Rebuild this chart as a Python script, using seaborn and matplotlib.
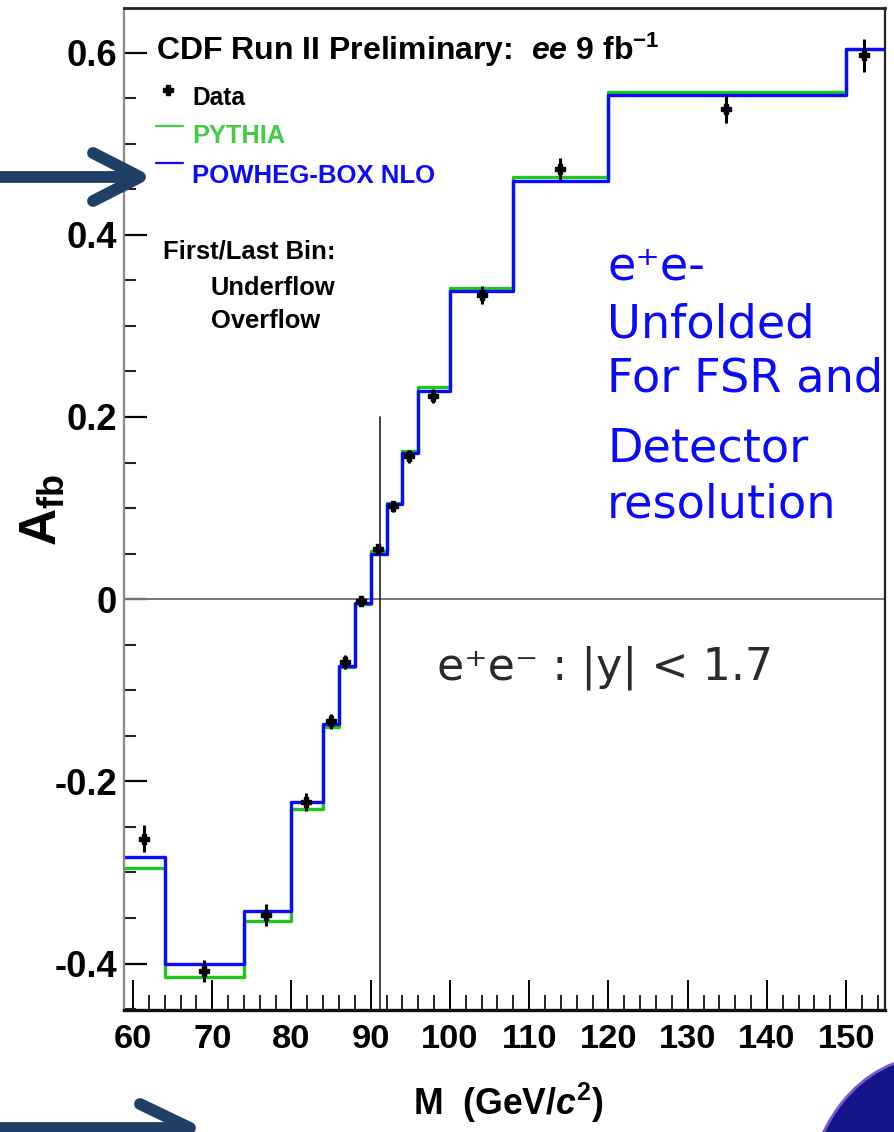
import numpy as np
import pandas as pd
import matplotlib
matplotlib.use("Agg")
import matplotlib.pyplot as plt
import seaborn as sns
from matplotlib import font_manager
from matplotlib.lines import Line2D
from matplotlib.patches import Circle
from matplotlib.ticker import MultipleLocator, FixedLocator

# ---------------- data ----------------
bin_edges = [50, 64, 74, 80, 84, 86, 88, 90, 92, 94, 96, 100, 108, 120, 150, 200]
pythia = [-0.295, -0.415, -0.353, -0.230, -0.140, -0.075, -0.005, 0.053,
          0.106, 0.163, 0.233, 0.342, 0.464, 0.557, 0.604]
powheg = [-0.283, -0.401, -0.342, -0.223, -0.137, -0.073, -0.004, 0.050,
          0.104, 0.161, 0.228, 0.338, 0.459, 0.553, 0.604]
data_mass = [61.4, 69.0, 76.8, 81.8, 85.0, 86.8, 88.8, 90.9, 92.8, 94.8,
             97.9, 104.0, 113.9, 134.8, 152.2]
data_afb = [-0.263, -0.408, -0.347, -0.223, -0.134, -0.069, -0.002, 0.055,
            0.102, 0.157, 0.223, 0.334, 0.472, 0.538, 0.597]
data_err = [0.015, 0.012, 0.012, 0.010, 0.008, 0.008, 0.006, 0.006,
            0.006, 0.007, 0.008, 0.010, 0.012, 0.015, 0.018]
z_mass = 91.19
x_ticks = [60, 70, 80, 90, 100, 110, 120, 130, 140, 150]
x_ticklabels = ["60", "70", "80", "90", "100", "110", "120", "130", "140", "150"]
y_ticks = [-0.4, -0.2, 0.0, 0.2, 0.4, 0.6]
y_ticklabels = ["-0.4", "-0.2", "0", "0.2", "0.4", "0.6"]

# ---------------- style ----------------
sns.set_theme(style="white")
names = {f.name for f in font_manager.fontManager.ttflist}
NARROW = "Liberation Sans Narrow" if "Liberation Sans Narrow" in names else "Liberation Sans"
WIDE = "Liberation Sans" if "Liberation Sans" in names else "DejaVu Sans"
plt.rcParams["font.family"] = [NARROW, "DejaVu Sans"]
plt.rcParams["axes.unicode_minus"] = False
plt.rcParams["mathtext.fontset"] = "custom"
plt.rcParams["mathtext.rm"] = NARROW + ":bold"
plt.rcParams["mathtext.it"] = NARROW + ":italic:bold"
plt.rcParams["mathtext.bf"] = WIDE + ":bold"

W, H = 894, 1132
fig = plt.figure(figsize=(W / 100, H / 100), dpi=100)
fig.patch.set_facecolor("white")
ax = fig.add_axes([124 / W, 1 - 1010 / H, (885 - 124) / W, (1010 - 8) / H])
ax.set_facecolor("white")

GREEN = "#1fc61f"
BLUE = "#0a0aff"

steps = pd.DataFrame({
    "M": bin_edges * 2,
    "Afb": (pythia + [pythia[-1]]) + (powheg + [powheg[-1]]),
    "model": ["PYTHIA"] * len(bin_edges) + ["POWHEG-BOX NLO"] * len(bin_edges),
})
sns.lineplot(data=steps, x="M", y="Afb", hue="model",
             palette={"PYTHIA": GREEN, "POWHEG-BOX NLO": BLUE},
             drawstyle="steps-post", estimator=None, sort=False,
             linewidth=2.4, legend=False, ax=ax)

ax.axhline(0, color="#777777", lw=1.4, zorder=1)
ax.plot([z_mass, z_mass], [-0.46, 0.2], color="#222222", lw=1.2, zorder=1)

ax.errorbar(data_mass, data_afb, yerr=data_err, fmt="P", ms=7.5, color="black",
            mec="black", mfc="black", elinewidth=2.2, capsize=0, zorder=5)

ax.set_xlim(58.87, 154.9)
ax.set_ylim(-0.451, 0.649)
ax.set_xlabel("")
ax.set_ylabel("")

for side, c, lw in [("left", "#888888", 1.6), ("top", "#222222", 2.0),
                    ("right", "#222222", 1.6), ("bottom", "#111111", 2.4)]:
    ax.spines[side].set_visible(True)
    ax.spines[side].set_color(c)
    ax.spines[side].set_linewidth(lw)

ax.xaxis.set_major_locator(FixedLocator(x_ticks))
ax.yaxis.set_major_locator(FixedLocator(y_ticks))
ax.xaxis.set_minor_locator(MultipleLocator(2))
ax.yaxis.set_minor_locator(MultipleLocator(0.05))
ax.set_xticklabels(x_ticklabels)
ax.set_yticklabels(y_ticklabels)

fig.canvas.draw()
R = fig.canvas.get_renderer()


def measure(s, size, **kw):
    t = fig.text(0, 0, s, fontsize=size, **kw)
    w = t.get_window_extent(renderer=R).width
    t.remove()
    return w


ytick_fs = 1.18 * 20 * 43 / measure("0.6", 20, fontweight="bold")
xtick_fs = 1.15 * 20 * 50 / measure("100", 20, fontweight="bold")

ax.tick_params(axis="y", which="major", direction="in", length=16.5, width=1.6,
               color="black", left=True, right=False, pad=5, labelsize=ytick_fs)
ax.tick_params(axis="y", which="minor", direction="in", length=8.6, width=1.5,
               color="#222222", left=True, right=False)
ax.tick_params(axis="x", which="major", direction="in", length=21.5, width=1.4,
               color="black", bottom=True, top=False, pad=10, labelsize=xtick_fs)
ax.tick_params(axis="x", which="minor", direction="in", length=10.8, width=1.4,
               color="#222222", bottom=True, top=False)
for lab in ax.get_xticklabels() + ax.get_yticklabels():
    lab.set_fontweight("bold")
    lab.set_color("black")


def fx(x):
    return x / W


def fy(y):
    return 1 - y / H


def fit_text(x, y, s, width, ha="left", va="baseline", **kw):
    t = fig.text(fx(x), fy(y), s, ha=ha, va=va, fontsize=20, **kw)
    w = t.get_window_extent(renderer=R).width
    t.set_fontsize(20 * width / w)
    return t


# title and legend-like annotations
fit_text(156, 60, r"CDF Run II Preliminary:  $\mathit{ee}$ 9 fb$^{-1}$", 504,
         fontweight="bold", color="black")
fit_text(192, 105, "Data", 53, fontweight="bold", color="black")
fit_text(192, 143, "PYTHIA", 93, fontweight="bold", color="#44cc44")
fit_text(192, 183, "POWHEG-BOX NLO", 243, fontweight="bold", color=BLUE)
fig.add_artist(Line2D([fx(168)], [fy(90)], marker="P", ms=7.5, color="black",
                      transform=fig.transFigure))
fig.add_artist(Line2D([fx(156), fx(183)], [fy(126), fy(126)], color="#44cc44",
                      lw=1.6, transform=fig.transFigure))
fig.add_artist(Line2D([fx(156), fx(183)], [fy(163), fy(163)], color=BLUE,
                      lw=1.6, transform=fig.transFigure))

fit_text(163, 258, "First/Last Bin:", 172, fontweight="bold", color="black")
fit_text(211, 295, "Underflow", 125, fontweight="bold", color="black")
fit_text(211, 328, "Overflow", 109, fontweight="bold", color="black")

# axis titles
fit_text(508, 1115, r"M  (GeV/$\mathit{c}^{2}$)", 191, ha="center",
         fontweight="bold", color="black")
yl = fit_text(42, 510, r"$\mathbf{A}_{\mathbf{fb}}$", 74, ha="center",
              va="center", color="black")
yl.set_rotation(90)

# blue commentary
blue_fam = ["DejaVu Sans"]
tmp = fit_text(607, 391, "For FSR and", 276, family=blue_fam, color=BLUE)
bfs = tmp.get_fontsize()
for txt, yy in [("e⁺e-", 279), ("Unfolded", 337), ("Detector", 461),
                ("resolution", 518)]:
    fig.text(fx(607), fy(yy), txt, fontsize=bfs, family=blue_fam, color=BLUE,
             va="baseline")

fit_text(437, 680, "e⁺e⁻ : |y| < 1.7", 335, family=["DejaVu Sans"],
         color="#2a2a2a")

# decorative arrows
NAVY = "#1f3f66"
arrow_kw = dict(color=NAVY, lw=8.5, solid_capstyle="round",
                solid_joinstyle="round", transform=fig.transFigure)
fig.add_artist(Line2D([fx(0), fx(136)], [fy(177), fy(177)], **arrow_kw))
fig.add_artist(Line2D([fx(93), fx(140), fx(93)], [fy(153), fy(177), fy(201)],
                      **arrow_kw))
fig.add_artist(Line2D([fx(0), fx(186)], [fy(1128), fy(1128)], **arrow_kw))
fig.add_artist(Line2D([fx(140), fx(190), fx(140)], [fy(1104), fy(1128), fy(1152)],
                      **arrow_kw))

# partial logo globe bottom-right
fig.add_artist(Circle((fx(930), fy(1215)), 125 / W, transform=fig.transFigure,
                      facecolor="#15158a", edgecolor="#7a5ad8", lw=2))

fig.savefig("out.png", dpi=100, facecolor="white")
